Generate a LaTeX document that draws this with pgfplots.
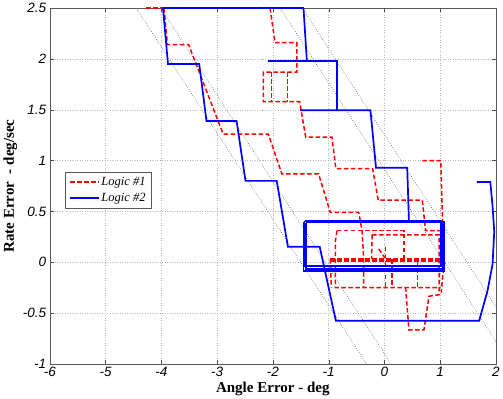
\documentclass[border=0pt]{standalone}
\usepackage{pgfplots}
\pgfplotsset{compat=1.18}
\usepackage{fontspec}
\setmainfont{Liberation Serif}
\newfontfamily\arialfont{Liberation Sans}

\pgfplotsset{
  logicone/.style={red, line width=1.5pt, dash pattern=on 4.5pt off 2.5pt},
  logictwo/.style={blue, line width=1.7pt},
  switchline/.style={gray!80!black, line width=0.6pt, dash pattern=on 0.7pt off 1.6pt},
}

\begin{document}
\begin{tikzpicture}
\begin{axis}[
  scale only axis,
  width=444bp, height=354bp,
  xmin=-6, xmax=2, ymin=-1, ymax=2.5,
  xtick={-6,-5,-4,-3,-2,-1,0,1,2},
  ytick={-1,-0.5,0,0.5,1,1.5,2,2.5},
  /pgf/number format/assume math mode=true,
  ticklabel style={font=\arialfont\itshape\fontsize{13.5}{14}\selectfont},
  xlabel={Angle Error - deg},
  ylabel={Rate Error\ \ - deg/sec},
  label style={font=\bfseries\fontsize{15}{16}\selectfont},
  xlabel style={yshift=2bp},
  ylabel style={yshift=-1bp},
  axis line style={gray!70!black},
  tick style={gray!60!black},
  tick align=inside,
  major tick length=4bp,
  grid=major,
  major grid style={gray!55, line width=0.5pt, dash pattern=on 1pt off 1.5pt},
  legend style={at={(0.035,0.539)}, anchor=north west, draw=gray!70!black,
    fill=white, font=\itshape\fontsize{12.5}{14}\selectfont,
    inner xsep=4bp, inner ysep=3bp, row sep=2bp},
  legend cell align=left,
  legend image code/.code={\draw[#1] (0bp,0bp) -- (28bp,0bp);},
  clip=false,
]

% switching lines
\addplot[switchline, forget plot] coordinates {(-4.45,2.5) (-0.32,-1)};
\addplot[switchline, forget plot] coordinates {(-4.01,2.5) (0.12,-1)};
\addplot[switchline, forget plot] coordinates {(-1.87,2.5) (2,-0.78)};
\addplot[switchline, forget plot] coordinates {(-1.47,2.5) (2,-0.44)};

\addlegendimage{logicone}
\addlegendentry{Logic \#1}
\addlegendimage{logictwo}
\addlegendentry{Logic \#2}

% ---- Logic #1 ----
\addplot[logicone, forget plot] coordinates {(-4.27,2.5) (-2.05,2.5)};
\addplot[logicone, forget plot] coordinates {
  (-3.95,2.5) (-3.89,2.14) (-3.51,2.14) (-2.89,1.26) (-2.08,1.26)
  (-1.84,0.87) (-1.18,0.87) (-0.97,0.49) (-0.46,0.49) (-0.40,0.31)
  (-0.37,0.03) (-0.37,-0.25)};
\addplot[logicone, forget plot] coordinates {
  (-2.05,2.5) (-1.96,2.16) (-1.57,2.16) (-1.57,1.87) (-2.17,1.87)
  (-2.17,1.58) (-1.52,1.58) (-1.41,1.23) (-0.94,1.23) (-0.87,0.92)
  (-0.21,0.92) (-0.11,0.61) (0.68,0.61) (0.74,0.31) (1.01,0.31) (1.01,0.02)};
\addplot[logicone, forget plot] coordinates {(-2.02,1.87) (-2.02,1.58)};
\addplot[logicone, forget plot] coordinates {(-1.74,1.87) (-1.74,1.58)};
\addplot[logicone, forget plot] coordinates {(0.68,1.0) (1.01,1.0) (1.05,0.30) (1.06,-0.05) (1.02,-0.30)};
\addplot[logicone, forget plot] coordinates {(-0.85,0.31) (0.35,0.31) (0.35,0.03)};
\addplot[logicone, forget plot] coordinates {(-0.85,0.31) (-0.88,0.20) (-0.88,-0.25) (1.01,-0.25)};
\addplot[logicone, forget plot] coordinates {
  (-0.22,0.27) (0.98,0.27) (0.98,-0.32) (0.80,-0.335) (0.71,-0.665)
  (0.44,-0.665) (0.38,-0.25)};
\addplot[logicone, forget plot] coordinates {(-0.22,0.27) (-0.23,0.03)};
\addplot[logicone, forget plot] coordinates {(-0.97,0.03) (1.00,0.03)};
\addplot[logicone, forget plot] coordinates {(-0.97,0.011) (1.01,0.011)};
\addplot[logicone, forget plot] coordinates {(-0.97,0.03) (-0.95,-0.25)};
\addplot[logicone, forget plot] coordinates {(0.02,0.15) (0.02,-0.25)};
\addplot[logicone, forget plot] coordinates {(0.14,0.03) (0.14,-0.25)};
\addplot[logicone, forget plot] coordinates {(0.59,0.011) (0.59,-0.25)};
\addplot[logicone, forget plot] coordinates {(-0.10,0.13) (0.0,0.05) (0.08,0.03)};

% ---- Logic #2 ----
\addplot[logictwo, forget plot] coordinates {(-3.97,2.5) (-1.45,2.5)};
\addplot[logictwo, forget plot] coordinates {
  (-3.97,2.5) (-3.88,1.95) (-3.32,1.95) (-3.19,1.39) (-2.65,1.39)
  (-2.49,0.80) (-1.93,0.80) (-1.73,0.153) (-1.16,0.153) (-0.87,-0.576)
  (1.70,-0.576) (1.85,-0.28) (1.94,-0.02) (1.97,0.30) (1.94,0.55)
  (1.90,0.79) (1.66,0.79)};
\addplot[logictwo, forget plot] coordinates {(-1.45,2.5) (-1.39,1.98)};
\addplot[logictwo, forget plot] coordinates {(-2.08,1.98) (-0.85,1.98) (-0.85,1.495)};
\addplot[logictwo, forget plot] coordinates {
  (-1.51,1.495) (-0.25,1.495) (-0.15,0.93) (0.41,0.93) (0.44,0.41)};
\addplot[logictwo, forget plot] coordinates {
  (-1.43,0.41) (1.01,0.41) (1.01,-0.04) (-1.43,-0.04) (-1.43,0.41)};
\addplot[logictwo, forget plot] coordinates {
  (-1.40,0.39) (1.04,0.39) (1.04,-0.065) (-1.40,-0.065) (-1.40,0.39)};
\addplot[logictwo, forget plot] coordinates {
  (-1.45,0.40) (1.07,0.40) (1.07,-0.088) (-1.45,-0.088) (-1.45,0.40)};

\end{axis}
\end{tikzpicture}
\end{document}
